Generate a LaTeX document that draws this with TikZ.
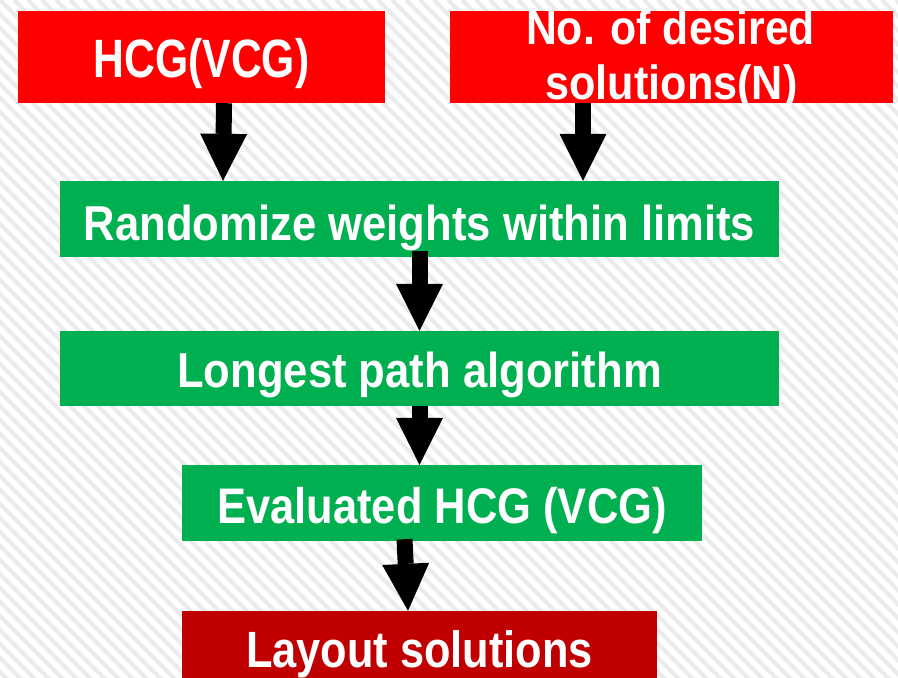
\documentclass[tikz,border=0pt]{standalone}
\usepackage{fontspec}
\usepackage{graphicx}
\setmainfont{Liberation Sans}
\usetikzlibrary{arrows.meta}

\definecolor{boxred}{HTML}{FF0000}
\definecolor{boxgreen}{HTML}{00B050}
\definecolor{boxdark}{HTML}{C00000}
\definecolor{stripe}{HTML}{EBEBEB}

% narrow bold label: size, horizontal squeeze, text
\newcommand{\lbl}[3]{{\bfseries\fontsize{#1}{#1}\selectfont\scalebox{#2}[1]{#3}}}

\tikzset{
  flowbox/.style={rectangle, inner sep=0pt, text=white, text depth=0pt},
  inbox/.style={flowbox, fill=boxred, minimum height=92pt},
  stepbox/.style={flowbox, fill=boxgreen, minimum height=76pt},
  outbox/.style={flowbox, fill=boxdark, minimum height=76pt},
  txt/.style={inner sep=0pt, text=white, anchor=base},
  blk/.style={draw=black, line width=16pt,
    -{Triangle[width=47pt, length=47pt, line width=0pt]}}
}

\begin{document}
\begin{tikzpicture}[x=1pt, y=1pt]
  \useasboundingbox (0,0) rectangle (898,-678);

  % striped background
  \fill[white] (0,0) rectangle (898,-678);
  \begin{scope}
    \clip (0,0) rectangle (898,-678);
    \foreach \s in {-700,-686,...,910}
      \draw[stripe, line width=4pt] (\s,0) -- ++(700,-700);
  \end{scope}

  % inputs
  \node[inbox, minimum width=367pt, text height=40pt] (hcg) at (201.5,-57)
    {\lbl{54}{0.79}{HCG(VCG)}};
  \node[inbox, minimum width=443pt] (num) at (671.5,-57) {};
  \node[txt] at ([yshift=-34pt, xshift=-1pt]num.north) {\lbl{48}{0.89}{No. of desired}};
  \node[txt] at ([yshift=-89pt]num.north) {\lbl{48}{0.90}{solutions(N)}};

  % processing steps
  \node[stepbox, minimum width=719pt, text height=42pt] (rand) at (419.5,-219)
    {\lbl{49}{0.89}{Randomize weights within limits}};
  \node[stepbox, minimum width=719pt, minimum height=75pt, text height=37pt] (long) at (419.5,-368.5)
    {\lbl{49}{0.89}{Longest path algorithm}};
  \node[stepbox, minimum width=520pt, text height=40pt] (eval) at (442,-503)
    {\lbl{50}{0.87}{Evaluated HCG (VCG)}};

  % result
  \node[outbox, minimum width=475pt, text height=36pt] (lay) at (419.5,-649)
    {\lbl{51}{0.85}{Layout solutions}};

  % flow arrows
  \draw[blk] ([xshift=22.5pt]hcg.south) -- ([xshift=-196.5pt]rand.north);
  \draw[blk] ([xshift=-88.5pt]num.south) -- ([xshift=163.5pt]rand.north);
  \draw[blk] ([yshift=6pt]rand.south) -- (long.north);
  \draw[blk] (long.south) -- (long.south |- eval.north);
  \draw[blk] ([xshift=-37.5pt, yshift=2pt]eval.south) -- ([xshift=-11.5pt]lay.north);
\end{tikzpicture}
\end{document}
